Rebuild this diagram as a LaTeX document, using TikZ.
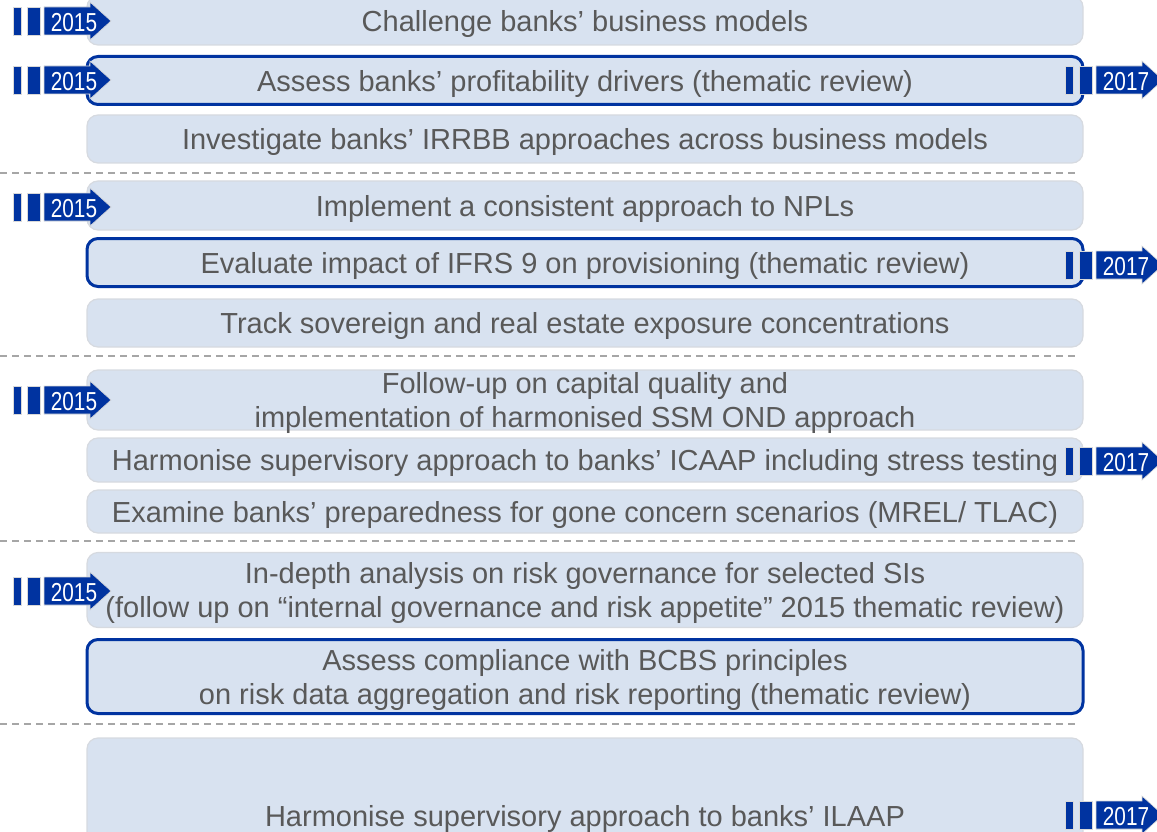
\documentclass[tikz,border=0pt]{standalone}
\usepackage{fontspec}
\setmainfont{Liberation Sans}
\usepackage{tikz}
\usepackage{xcolor}

\definecolor{tagblue}{HTML}{0033A0}
\definecolor{boxfill}{HTML}{D8E2F0}
\definecolor{boxline}{HTML}{D6DAE0}
\definecolor{textgray}{HTML}{595959}
\definecolor{sepgray}{HTML}{A6A6A6}

\tikzset{
  item/.style={rectangle,rounded corners=11,fill=boxfill,draw=boxline,line width=1.2,
    minimum width=996,inner sep=0,align=center,text=textgray,text depth=0pt,
    font=\fontsize{29}{34}\selectfont},
  keyitem/.style={item,draw=tagblue,line width=3},
  tagtext/.style={text=white,inner sep=0,font=\fontsize{26}{26}\selectfont},
  separator/.style={sepgray,line width=1.5,dash pattern=on 7 off 5},
  yeartag/.pic={
    \fill[tagblue,draw=black!15,line width=0.6] (0,-14) rectangle (8,14);
    \fill[tagblue,draw=black!15,line width=0.6] (14,-14) rectangle (27,14);
    \fill[tagblue,draw=black!15,line width=0.6] (31,-14) -- (77,-14) -- (77,-19) -- (98,0)
      -- (77,19) -- (77,14) -- (31,14) -- cycle;
    \node[tagtext] (-lbl) at (61,2) {\scalebox{0.8}[1]{#1}};
  }
}

\begin{document}
\begin{tikzpicture}[x=1pt,y=-1pt]
\useasboundingbox (0,0) rectangle (1157,832);
\clip (0,0) rectangle (1157,832);

% business models and profitability
\node[item,minimum height=49] (models) at (585,20.5) {Challenge banks’ business models};
\node[keyitem,minimum height=48] (profit) at (585,80.5) {Assess banks’ profitability drivers (thematic review)};
\node[item,minimum height=48] (irrbb) at (585,139) {Investigate banks’ IRRBB approaches across business models};
\draw[separator] (0,173) -- (1077,173);

% credit risk
\node[item,minimum height=49] (npl) at (585,205.5) {Implement a consistent approach to NPLs};
\node[keyitem,minimum height=48] (ifrs) at (585,262.5) {Evaluate impact of IFRS 9 on provisioning (thematic review)};
\node[item,minimum height=48] (sovereign) at (585,323) {Track sovereign and real estate exposure concentrations};
\draw[separator] (0,356) -- (1077,356);

% capital adequacy
\node[item,minimum height=60] (capital) at (585,400) {Follow-up on capital quality and\\implementation of harmonised SSM OND approach};
\node[item,minimum height=44] (icaap) at (585,460) {Harmonise supervisory approach to banks’ ICAAP including stress testing};
\node[item,minimum height=43] (mrel) at (585,511.5) {Examine banks’ preparedness for gone concern scenarios (MREL/ TLAC)};
\draw[separator] (0,541) -- (1077,541);

% risk governance and data quality
\node[item,minimum height=75] (governance) at (585,590) {In-depth analysis on risk governance for selected SIs\\(follow up on “internal governance and risk appetite” 2015 thematic review)};
\node[keyitem,minimum height=74] (bcbs) at (585,676.5) {Assess compliance with BCBS principles\\on risk data aggregation and risk reporting (thematic review)};
\draw[separator] (0,724) -- (1077,724);

% liquidity
\node[item,minimum height=156] (ilaap) at (585,816) {Harmonise supervisory approach to banks’ ILAAP};

% start and end tags
\pic (s1) at (13,21) {yeartag=2015};
\pic (s2) at (13,80) {yeartag=2015};
\pic (s3) at (13,207) {yeartag=2015};
\pic (s4) at (13,400) {yeartag=2015};
\pic (s5) at (13,591) {yeartag=2015};
\pic (e1) at (1065,80) {yeartag=2017};
\pic (e2) at (1065,265) {yeartag=2017};
\pic (e3) at (1065,461) {yeartag=2017};
\pic (e4) at (1065,815) {yeartag=2017};
\end{tikzpicture}
\end{document}
